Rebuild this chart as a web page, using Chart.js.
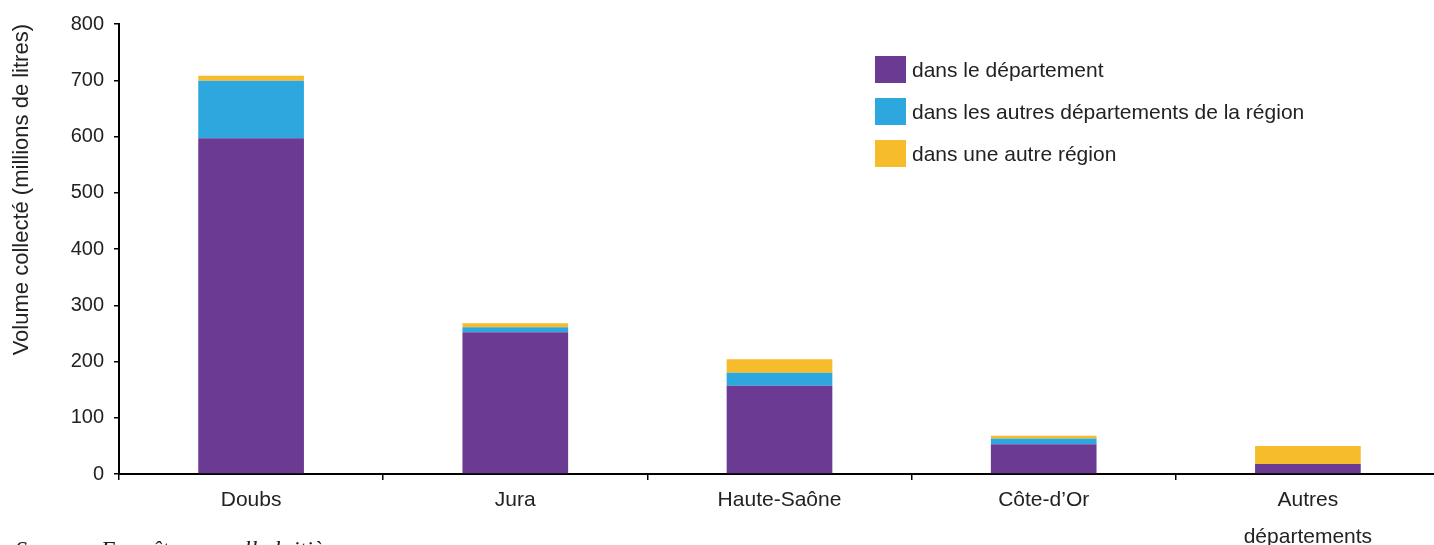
<!DOCTYPE html>
<html lang="fr">
<head>
    <meta charset="UTF-8">
    <title>Volume collecté par département</title>
    <script src="https://cdn.jsdelivr.net/npm/chart.js"></script>
    <style>
        body { margin: 0; background: #fff; font-family: "Liberation Sans", Arial, sans-serif; overflow: hidden; }
        .wrap { position: relative; width: 1434px; height: 545px; overflow: hidden; }
        .legend { position: absolute; left: 875px; top: 56px; }
        .legend div { display: flex; align-items: center; height: 27px; margin-bottom: 15px; font-size: 21px; color: #222; }
        .legend span { display: inline-block; width: 31px; height: 27px; margin-right: 6px; }
        .source { position: absolute; left: 15px; top: 536px; font-family: "Liberation Serif", serif; font-style: italic; font-size: 24px; color: #222; white-space: nowrap; }
    </style>
</head>
<body>
<div class="wrap">
    <canvas id="chart" width="1440" height="545"></canvas>
    <div class="legend" id="legend"></div>
    <div class="source">Source : Enquête annuelle laitière</div>
</div>
<script>
const categories = ['Doubs', 'Jura', 'Haute-Saône', 'Côte-d’Or', ['Autres', 'départements']];
const seriesNames = ['dans le département', 'dans les autres départements de la région', 'dans une autre région'];
const dansDepartement = [597, 252, 157, 53, 18];
const autresDepartements = [102, 9, 23, 10, 0];
const autreRegion = [9, 7, 24, 5, 32];
const yTicks = [0, 100, 200, 300, 400, 500, 600, 700, 800];
const colors = ['#6b3a93', '#2ea7de', '#f6bc2b'];

const values = [dansDepartement, autresDepartements, autreRegion];

// legend built from the series
const legend = document.getElementById('legend');
seriesNames.forEach((name, i) => {
    const row = document.createElement('div');
    row.innerHTML = '<span style="background-color:' + colors[i] + '"></span>' + name;
    legend.appendChild(row);
});

const font = '"Liberation Sans", Arial, sans-serif';
const ctx = document.getElementById('chart').getContext('2d');
new Chart(ctx, {
    type: 'bar',
    data: {
        labels: categories,
        datasets: seriesNames.map((name, i) => ({
            label: name,
            data: values[i],
            backgroundColor: colors[i],
            borderWidth: 0,
            barPercentage: 0.4,
            categoryPercentage: 1
        }))
    },
    options: {
        responsive: false,
        animation: false,
        layout: { padding: { top: 24, right: 0, left: 0, bottom: 0 } },
        plugins: {
            legend: { display: false },
            tooltip: { enabled: false }
        },
        scales: {
            x: {
                stacked: true,
                afterFit: (scale) => { scale.height = 71; },
                grid: {
                    offset: true,
                    drawOnChartArea: false,
                    tickLength: 6,
                    color: '#000',
                    lineWidth: 1.5
                },
                border: { color: '#000', width: 2 },
                ticks: {
                    color: '#222',
                    padding: 2,
                    maxRotation: 0,
                    autoSkip: false,
                    font: { family: font, size: 21, lineHeight: 1.75 }
                }
            },
            y: {
                stacked: true,
                min: 0,
                max: 800,
                afterFit: (scale) => { scale.width = 119; },
                afterBuildTicks: (scale) => { scale.ticks = yTicks.map(v => ({ value: v })); },
                grid: {
                    drawOnChartArea: false,
                    tickLength: 5,
                    color: '#000',
                    lineWidth: 1.5
                },
                border: { color: '#000', width: 2 },
                ticks: {
                    color: '#222',
                    padding: 10,
                    font: { family: font, size: 20 }
                },
                title: {
                    display: true,
                    align: 'end',
                    text: 'Volume collecté (millions de litres)',
                    color: '#222',
                    padding: { top: 9, bottom: 0 },
                    font: { family: font, size: 22 }
                }
            }
        }
    }
});
</script>
</body>
</html>
